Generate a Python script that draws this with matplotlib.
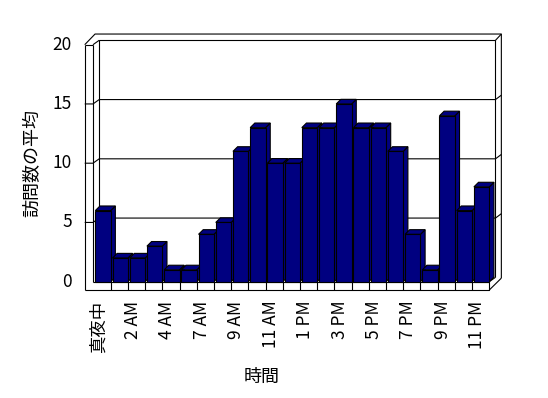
import matplotlib
matplotlib.use('Agg')
import matplotlib.pyplot as plt
from matplotlib.patches import Polygon

plt.rcParams['font.family'] = ['Noto Sans CJK JP', 'DejaVu Sans']

# 時間帯ごとの訪問数の平均 (5 AM はデータなし)
hours = ['真夜中', '1 AM', '2 AM', '3 AM', '4 AM', '6 AM', '7 AM', '8 AM', '9 AM',
         '10 AM', '11 AM', '正午', '1 PM', '2 PM', '3 PM', '4 PM', '5 PM', '6 PM',
         '7 PM', '8 PM', '9 PM', '10 PM', '11 PM']
visits = [6, 2, 2, 3, 1, 1, 4, 5, 11, 13, 10, 10, 13, 13, 15, 13, 13, 11, 4, 1, 14, 6, 8]
yticks = [0, 5, 10, 15, 20]

navy = '#000080'
lw = 0.8
n = len(visits)

fig = plt.figure(figsize=(5.48, 3.98), dpi=100)
# 前面の座標: x=93.5..489.3px, y=281.7..44.7px
ax = fig.add_axes([93.5 / 548, (398 - 281.7) / 398, 395.8 / 548, 237 / 398])
ax.set_xlim(-0.5, n - 0.5)
ax.set_ylim(0, 20)
ax.axis('off')

# 奥行き
dx, dy = 0.36, 0.37        # 壁
bdx, bdy = 0.27, 0.39      # 棒
xl_out, xl_in = -1.01, -0.53
xr_in, xr_out = n - 0.5 + dx, n - 0.5 + 0.7
top_out = 20.9
floor_y = -0.7

def line(xs, ys, z=1):
    ax.plot(xs, ys, color='black', lw=lw, clip_on=False, zorder=z, solid_capstyle='butt')

# 奥の壁と目盛線
wall_l = xl_in + dx + 0.0
line([wall_l, wall_l, xr_in, xr_in], [dy, 20 + dy, 20 + dy, dy])
line([xl_in, wall_l], [20, 20 + dy])
line([xl_out, xl_out + 0.6, xr_out, xr_out], [20, top_out, top_out, 0.3])
line([xr_in, xr_out], [20 + dy, top_out])
for v in yticks[1:-1]:
    line([xl_out, xl_in, wall_l, xr_in, xr_out], [v, v, v + dy, v + dy, v + 2 * dy])

# 左の壁
line([xl_out, xl_out], [floor_y, 20])
line([xl_in, xl_in], [0, 20])
line([xl_out, xl_in], [20, 20])

# 床
line([xl_out, n - 0.5, n - 0.5], [floor_y, floor_y, 0])
line([xl_in, n - 0.5], [0, 0])
for i in range(n - 1):
    line([i + 0.5, i + 0.5], [floor_y, 0])
line([n - 0.5, xr_in], [0, dy])
line([n - 0.5, xr_out], [floor_y, 0.3])

# 棒 (前面 + 側面 + 上面)
w = 0.895
lefts = [i - 0.5 + (1 - w) for i in range(n)]
bars = ax.bar(lefts, visits, width=w, align='edge', color=navy,
              edgecolor='black', lw=lw, clip_on=False)
for i, (rect, x0, v) in enumerate(zip(bars, lefts, visits)):
    rect.set_zorder(4 + 2 * i)
    x1 = x0 + w
    side = Polygon([(x1, 0), (x1 + bdx, bdy), (x1 + bdx, v + bdy), (x1, v)],
                   closed=True, fc=navy, ec='black', lw=lw, zorder=3 + 2 * i, clip_on=False)
    top = Polygon([(x0, v), (x0 + bdx, v + bdy), (x1 + bdx, v + bdy), (x1, v)],
                  closed=True, fc=navy, ec='black', lw=lw, zorder=3 + 2 * i, clip_on=False)
    ax.add_patch(side)
    ax.add_patch(top)

# ラベル
for v in yticks:
    ax.text(-1.75, v, str(v), ha='right', va='center', fontsize=12.5)
for i, h in enumerate(hours):
    if i % 2 == 0:
        ax.text(i - 0.2, -1.6, h, rotation=90, ha='center', va='top', fontsize=12.5)

fig.text(262 / 548, 1 - 377 / 398, '時間', ha='center', va='center', fontsize=13)
fig.text(32 / 548, 1 - 163 / 398, '訪問数の平均', ha='center', va='center',
         rotation=90, fontsize=13)

fig.savefig('out.png', dpi=100)
